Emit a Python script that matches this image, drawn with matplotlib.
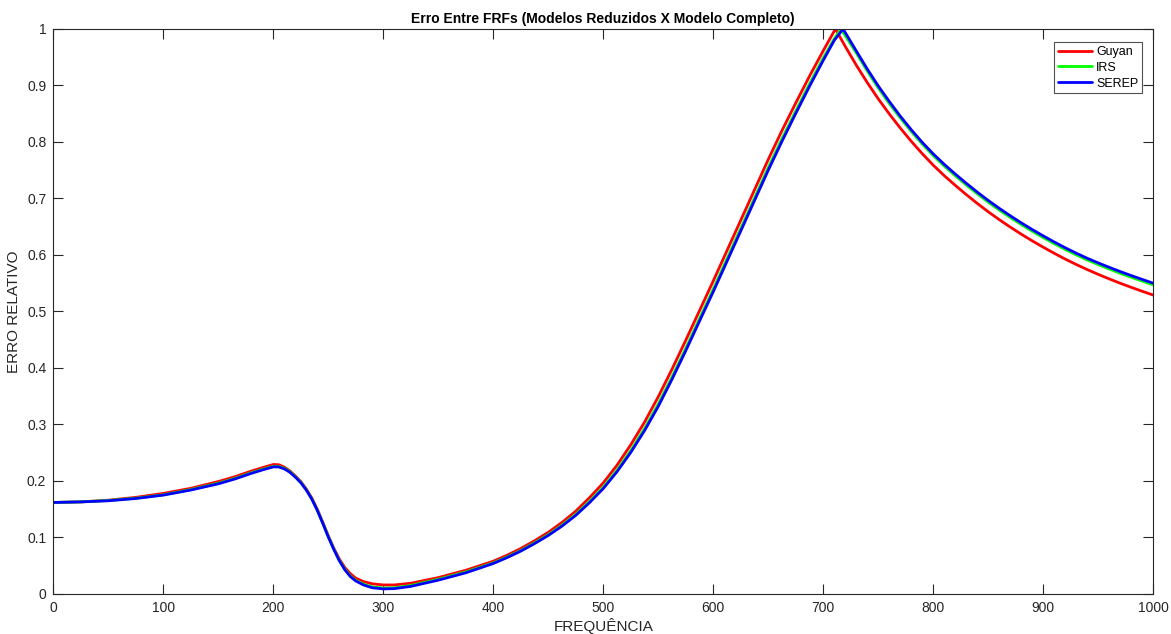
import matplotlib
matplotlib.use("Agg")
import matplotlib.pyplot as plt

# ---- data ----
freq_low = [0, 25, 50, 75, 100, 125, 150, 165, 180, 190, 200, 205, 210, 215, 220, 225, 230, 235,
            240, 245, 250, 255, 260, 265, 270, 275, 282, 290, 300, 310, 325, 350, 375,
            400, 412.5, 425, 437.5, 450, 462.5, 475, 487.5, 500, 512.5, 525, 537.5, 550, 562.5,
            575, 587.5, 600, 612.5, 625, 637.5, 650, 662.5, 675, 687.5, 700]
freq_tail = [730, 740, 750, 760, 770, 780, 790, 800, 810, 820, 830, 840, 850, 860, 870, 880, 890,
             900, 910, 920, 930, 940, 950, 960, 970, 980, 990, 1000]

freq_guyan = freq_low + [711, 720] + freq_tail
guyan = [0.162, 0.163, 0.166, 0.171, 0.178, 0.187, 0.199, 0.2075, 0.2175, 0.2235, 0.2292, 0.2288,
         0.2245, 0.218, 0.209, 0.199, 0.186, 0.170, 0.150, 0.127, 0.103, 0.081, 0.062, 0.047,
         0.036, 0.028, 0.022, 0.018, 0.016, 0.016, 0.019, 0.029, 0.042,
         0.058, 0.0686, 0.0805, 0.0942, 0.1092, 0.1267, 0.1467, 0.1705, 0.1967, 0.228, 0.2642,
         0.3042, 0.3492, 0.398, 0.4492, 0.5017, 0.5542, 0.608, 0.6617, 0.7155, 0.7692, 0.8205,
         0.8692, 0.9167, 0.9617,
         1.0, 0.969,
         0.9359, 0.905, 0.8762, 0.8496, 0.8246, 0.8011, 0.7792, 0.7588, 0.7403, 0.7232, 0.7068,
         0.6912, 0.6764, 0.6625, 0.6493, 0.6368, 0.6249, 0.6137, 0.6029, 0.5927, 0.5831, 0.5741,
         0.5656, 0.5576, 0.5499, 0.5427, 0.5357, 0.529]

freq_irs = freq_low + [710, 716] + freq_tail
irs = [0.162, 0.163, 0.1655, 0.1695, 0.1755, 0.1848, 0.196, 0.2045, 0.2145, 0.2205, 0.2258, 0.2256,
       0.2225, 0.2165, 0.2075, 0.1975, 0.1845, 0.1685, 0.1485, 0.1255, 0.1015, 0.0795, 0.0595,
       0.044, 0.032, 0.024, 0.0175, 0.0125, 0.0105, 0.011, 0.015, 0.026, 0.039,
       0.055, 0.0655, 0.077, 0.0905, 0.105, 0.1218, 0.1411, 0.164, 0.1892, 0.2194, 0.2541, 0.293,
       0.3365, 0.3846, 0.4353, 0.4878, 0.54, 0.5938, 0.6475, 0.7013, 0.755, 0.8063, 0.8553,
       0.9032, 0.949,
       0.983, 1.0,
       0.9575, 0.9255, 0.8955, 0.868, 0.8425, 0.8185, 0.7962, 0.7758, 0.7573, 0.7402, 0.7238,
       0.7082, 0.6934, 0.6795, 0.6663, 0.6538, 0.6419, 0.6307, 0.6199, 0.6097, 0.6001, 0.5911,
       0.5829, 0.5751, 0.5676, 0.5605, 0.5537, 0.547]

freq_serep = freq_low + [710, 718] + freq_tail
serep = [0.162, 0.163, 0.165, 0.169, 0.175, 0.184, 0.195, 0.2035, 0.2135, 0.2195, 0.2250, 0.2248,
         0.2215, 0.2155, 0.207, 0.197, 0.184, 0.168, 0.148, 0.125, 0.101, 0.079, 0.059, 0.043,
         0.031, 0.023, 0.016, 0.011, 0.009, 0.0095, 0.0135, 0.0245, 0.0375,
         0.054, 0.0644, 0.0759, 0.0892, 0.1036, 0.1202, 0.1392, 0.1618, 0.1867, 0.2165, 0.2507,
         0.2892, 0.3322, 0.3802, 0.4307, 0.4832, 0.5352, 0.589, 0.6427, 0.6965, 0.7502, 0.8015,
         0.8507, 0.8987, 0.9447,
         0.980, 1.0,
         0.961, 0.929, 0.899, 0.8716, 0.8456, 0.8216, 0.7992, 0.7788, 0.7603, 0.7432, 0.7268,
         0.7112, 0.6964, 0.6825, 0.6693, 0.6568, 0.6449, 0.6337, 0.6229, 0.6127, 0.6031, 0.5941,
         0.5859, 0.5781, 0.5706, 0.5635, 0.5567, 0.550]

xticks = [0, 100, 200, 300, 400, 500, 600, 700, 800, 900, 1000]
yticks = [0, 0.1, 0.2, 0.3, 0.4, 0.5, 0.6, 0.7, 0.8, 0.9, 1]
ytick_labels = ["0", "0.1", "0.2", "0.3", "0.4", "0.5", "0.6", "0.7", "0.8", "0.9", "1"]

plt.rcParams['font.family'] = ['Liberation Sans', 'DejaVu Sans']

fig = plt.figure(figsize=(11.71, 6.34), dpi=100)
ax = fig.add_axes([0.0455, 0.0631, 0.9394, 0.8912])

kw = dict(lw=2, solid_joinstyle='round', solid_capstyle='round')
ax.plot(freq_guyan, guyan, color='#ff0000', label='Guyan', **kw)
ax.plot(freq_irs, irs, color='#00ff00', label='IRS', **kw)
ax.plot(freq_serep, serep, color='#0000ff', label='SEREP', **kw)

ax.set_xlim(0, 1000)
ax.set_ylim(0, 1)
ax.set_xticks(xticks)
ax.set_xticklabels([str(t) for t in xticks])
ax.set_yticks(yticks)
ax.set_yticklabels(ytick_labels)

dark = '#262626'
for s in ax.spines.values():
    s.set_color(dark)
    s.set_linewidth(0.8)
ax.tick_params(direction='in', length=7.5, width=0.8, colors=dark, labelsize=10,
               top=True, right=True, pad=5)

ax.set_title('Erro Entre FRFs (Modelos Reduzidos X Modelo Completo)', fontsize=10,
             fontweight='bold', color='black', pad=4)
ax.set_xlabel('FREQUÊNCIA', fontsize=11, color=dark, labelpad=2)
ax.set_ylabel('ERRO RELATIVO', fontsize=11, color=dark, labelpad=4)

leg = ax.legend(loc='upper right', bbox_to_anchor=(0.990, 0.9765), fontsize=9,
                frameon=True, fancybox=False, borderpad=0.3, handlelength=2.7,
                handletextpad=0.35, labelspacing=0.3, borderaxespad=0)
leg.get_frame().set_edgecolor(dark)
leg.get_frame().set_linewidth(0.8)

fig.savefig('out.png', dpi=100)
